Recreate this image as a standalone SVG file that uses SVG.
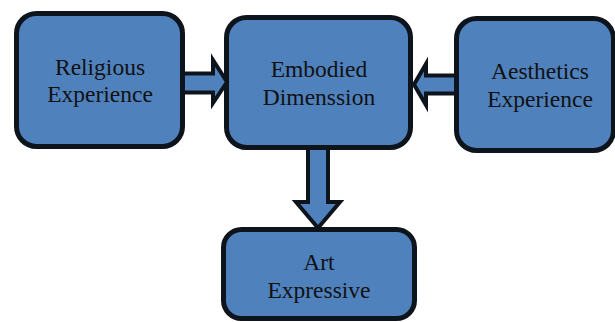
<svg xmlns="http://www.w3.org/2000/svg" width="615" height="322" viewBox="0 0 615 322">
<style>
.box{fill:#4F81BD;stroke:#0E141C;stroke-width:5}
.arr{fill:#4F81BD;stroke:#0E141C;stroke-width:4;stroke-linejoin:miter}
.t{font-family:"Liberation Serif","Tinos","Times New Roman","DejaVu Serif","Noto Serif",serif;font-size:23.5px;fill:#111111;text-anchor:middle}
</style>
<rect width="615" height="322" fill="#FFFFFF"/>
<g id="node-religious">
<rect class="box" x="16.5" y="13.5" width="166" height="133" rx="20"/>
<text class="t" x="100" y="75">Religious</text>
<text class="t" x="100" y="102">Experience</text>
</g>
<g id="node-embodied">
<rect class="box" x="226.5" y="17.5" width="184" height="130" rx="20"/>
<text class="t" x="319" y="77">Embodied</text>
<text class="t" x="319" y="105">Dimenssion</text>
</g>
<g id="node-aesthetics">
<rect class="box" x="456.5" y="18.5" width="157" height="132" rx="20"/>
<text class="t" x="540" y="79">Aesthetics</text>
<text class="t" x="540" y="107">Experience</text>
</g>
<g id="node-art">
<rect class="box" x="223.5" y="229.5" width="191" height="89" rx="18"/>
<text class="t" x="319" y="270">Art</text>
<text class="t" x="319" y="298">Expressive</text>
</g>
<g id="connectors">
<polygon class="arr" points="183,73.5 213,73.5 213,60 227,82 213,103 213,92.5 183,92.5"/>
<polygon class="arr" points="456,75.5 426,75.5 426,64 414,84.5 426,105 426,93.5 456,93.5"/>
<polygon class="arr" points="308,148 308,202 296,202 318,228 340,202 328,202 328,148"/>
</g>
</svg>
